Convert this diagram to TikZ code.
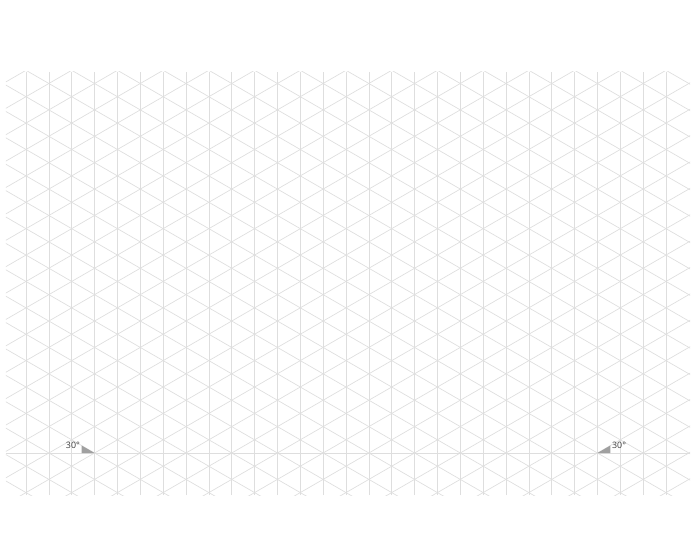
\documentclass[tikz,border=0pt]{standalone}
\usepackage{fontspec}
\setmainfont{Open Sans}
\usetikzlibrary{calc}
\definecolor{gridgray}{RGB}{222,222,222}
\definecolor{wedgegray}{RGB}{160,160,160}
\definecolor{labelgray}{RGB}{60,60,60}

\tikzset{
  gridline/.style={draw=gridgray, line width=0.85pt},
  wedge/.style={fill=wedgegray, draw=none},
  anglelabel/.style={text=labelgray, inner sep=0pt, font=\fontsize{11}{13}\selectfont}
}

\begin{document}
\begin{tikzpicture}

\useasboundingbox (0,0) rectangle (30.625,24.019);

\begin{scope}
\clip (0.2625,2.3625) rectangle (30.19,20.869);

% vertical lines
\foreach \i in {0,...,28} {
    \path[gridline] (1.1375+\i,2.3625) -- (1.1375+\i,20.869);
}

% the two diagonal families, one line of each through every baseline node
\foreach \m in {-18,...,32} {
    \path[gridline] (2.1375+2*\m,4.2) ++(210:40) -- ++(30:80);
    \path[gridline] (2.1375+2*\m,4.2) ++(150:40) -- ++(-30:80);
}

% base line
\path[gridline] (0.2625,4.2) -- (30.19,4.2);
\end{scope}

% left angle mark
\coordinate (leftvertex) at (4.1375,4.2);
\fill[wedge] (leftvertex) -- ++(-0.569,0) -- ++(0,0.3285) -- cycle;
\node[anglelabel, anchor=base east] (leftlabel) at (3.5,4.4) {30°};

% right angle mark
\coordinate (rightvertex) at (26.1375,4.2);
\fill[wedge] (rightvertex) -- ++(0.569,0) -- ++(0,0.3285) -- cycle;
\node[anglelabel, anchor=base west] (rightlabel) at (26.775,4.4) {30°};

\end{tikzpicture}
\end{document}
